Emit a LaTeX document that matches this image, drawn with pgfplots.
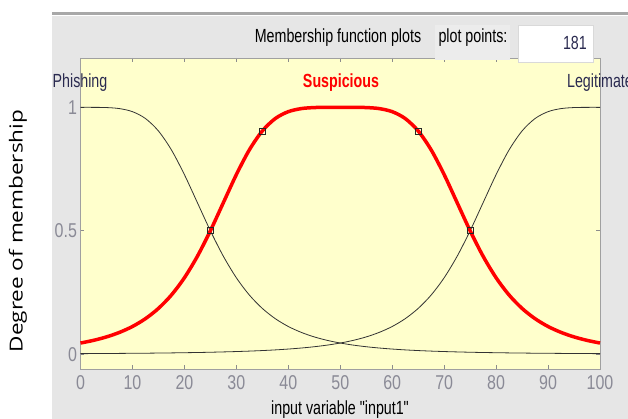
\documentclass[border=0pt]{standalone}
\usepackage{graphicx}
\usepackage{fontspec}
\setmainfont{Liberation Sans}
\newfontfamily\plainsans{Liberation Sans}
\newfontfamily\opensans{Open Sans}
\usepackage{pgfplots}
\usepackage{pgfplotstable}
\pgfplotsset{compat=1.18}
\definecolor{figbg}{HTML}{E6E6E6}
\definecolor{axbg}{HTML}{FFFFCC}
\definecolor{tickgrey}{HTML}{8C8C8C}
\definecolor{ticktext}{HTML}{8A8A96}
\definecolor{bordergrey}{HTML}{A0A0A0}
\definecolor{topline}{HTML}{A8A8A8}
\definecolor{labbg}{HTML}{ECECEC}
\definecolor{navy}{HTML}{2A2A50}
\definecolor{mfred}{HTML}{FF0000}
\newcommand{\mt}[2]{{\fontsize{#1}{#1}\selectfont\scalebox{0.75}[1]{#2}}}

\pgfplotstableread{
x     phish   susp    legit
0     1.0000  0.0452  0.0022
2.5   1.0000  0.0560  0.0025
5     0.9992  0.0700  0.0028
7.5   0.9950  0.0883  0.0032
10    0.9826  0.1122  0.0036
12.5  0.9548  0.1438  0.0040
15    0.9044  0.1854  0.0046
17.5  0.8277  0.2397  0.0052
20    0.7275  0.3096  0.0060
22.5  0.6139  0.3967  0.0068
25    0.5000  0.5000  0.0079
27.5  0.3967  0.6139  0.0092
30    0.3096  0.7275  0.0107
32.5  0.2397  0.8277  0.0125
35    0.1854  0.9044  0.0147
37.5  0.1438  0.9548  0.0174
40    0.1122  0.9826  0.0208
42.5  0.0883  0.9950  0.0250
45    0.0700  0.9992  0.0302
47.5  0.0560  1.0000  0.0368
50    0.0452  1.0000  0.0452
52.5  0.0368  1.0000  0.0560
55    0.0302  0.9992  0.0700
57.5  0.0250  0.9950  0.0883
60    0.0208  0.9826  0.1122
62.5  0.0174  0.9548  0.1438
65    0.0147  0.9044  0.1854
67.5  0.0125  0.8277  0.2397
70    0.0107  0.7275  0.3096
72.5  0.0092  0.6139  0.3967
75    0.0079  0.5000  0.5000
77.5  0.0068  0.3967  0.6139
80    0.0060  0.3096  0.7275
82.5  0.0052  0.2397  0.8277
85    0.0046  0.1854  0.9044
87.5  0.0040  0.1438  0.9548
90    0.0036  0.1122  0.9826
92.5  0.0032  0.0883  0.9950
95    0.0028  0.0700  0.9992
97.5  0.0025  0.0560  1.0000
100   0.0022  0.0452  1.0000
}\mfdata

\begin{document}
\begin{tikzpicture}[x=1pt,y=1pt]
\clip (0,0) rectangle (628,419);
\fill[white] (0,0) rectangle (628,419);
\fill[figbg] (52,0) rectangle (628,403);
\fill[topline] (52,403.5) rectangle (628,406.5);
\begin{axis}[
  at={(80.5pt,50pt)}, anchor=south west,
  width=519.5pt, height=311pt, scale only axis,
  xmin=0, xmax=100, ymin=-0.06, ymax=1.2,
  xtick={0,10,...,100}, ytick={0,0.5,1},
  tick align=inside, major tick length=4pt,
  every tick/.style={color=tickgrey, line width=0.6pt},
  axis line style={color=bordergrey, line width=0.8pt},
  axis background/.style={fill=axbg},
  /pgf/number format/assume math mode=true,
  xticklabel={\scalebox{0.8}[1]{\pgfmathprintnumber{\tick}}},
  yticklabel={\scalebox{0.8}[1]{\pgfmathprintnumber{\tick}}},
  ticklabel style={font=\fontsize{20}{20}\selectfont, color=ticktext},
  xticklabel style={yshift=-3pt},
  clip=false,
]
\addplot[color=black!80, line width=0.8pt, smooth] table[x=x, y=phish] {\mfdata};
\addplot[color=black!80, line width=0.8pt, smooth] table[x=x, y=legit] {\mfdata};
\addplot[color=mfred, line width=3.5pt, smooth] table[x=x, y=susp] {\mfdata};
\addplot[only marks, mark=square, mark size=3pt, mark options={draw=black!85, line width=0.8pt, fill=none}]
  coordinates {(25,0.5) (35,0.9044) (65,0.9044) (75,0.5)};
\end{axis}
% label area
\fill[labbg] (435,359) rectangle (510,394);
\draw[line width=0.6pt, color=black!15, fill=white] (518,357) rectangle (593,394);
\node[anchor=center] at (338,381) {\mt{19}{Membership function plots}};
\node[anchor=center] at (473,381) {\mt{19}{plot points:}};
\node[anchor=east, text=navy, inner sep=0pt] at (587,376) {\mt{19}{181}};
\node[anchor=center, text=navy] at (80,336) {\mt{19}{Phishing}};
\node[anchor=center, text=mfred] at (341,336) {\mt{19}{\bfseries Suspicious}};
\node[anchor=center, text=navy] at (600,336) {\mt{19}{Legitimate}};
\node[anchor=center] at (340,9) {\plainsans\mt{19}{input variable "input1"}};
\node[anchor=center, rotate=90] at (18,188) {\opensans\fontsize{18}{18}\selectfont\scalebox{1.25}[1]{Degree of membership}};
\end{tikzpicture}
\end{document}
